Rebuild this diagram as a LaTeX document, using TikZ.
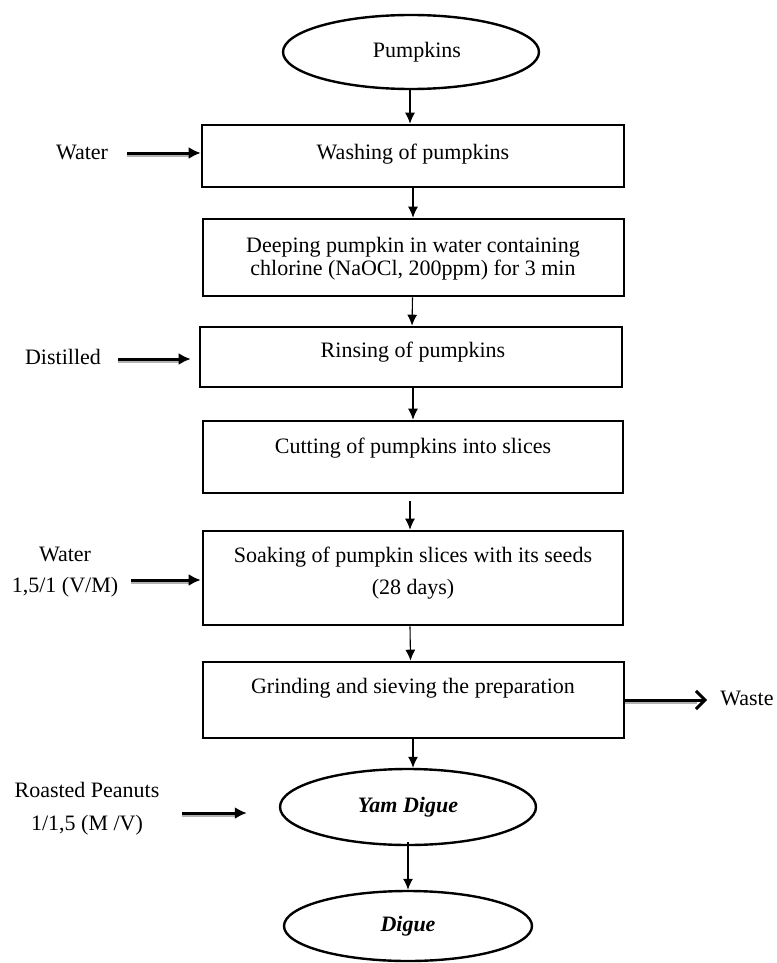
\documentclass[tikz,border=0pt]{standalone}
\usepackage{fontspec}
\setmainfont{Liberation Serif}
\usetikzlibrary{shapes.geometric,arrows.meta}
\begin{document}
\begin{tikzpicture}[x=1pt,y=-1pt,
  box/.style={draw,line width=2.6pt,rectangle,inner sep=0pt},
  oval/.style={draw,line width=2.4pt,ellipse,inner sep=0pt},
  txt/.style={font=\fontsize{22}{23}\selectfont,inner sep=0pt,align=center},
  flow/.style={line width=1.1pt,-{Latex[length=11pt,width=10pt]}},
  shadowline/.style={draw=gray!60,line width=2.5pt},
  feed/.style={line width=3pt,-{Latex[length=12pt,width=12pt]}},
  outflow/.style={line width=3pt,-{Straight Barb[length=9pt,width=18pt,line width=3pt]}}
]
\useasboundingbox (0,0) rectangle (776,963);

% main column
\node[oval,txt,minimum width=256pt,minimum height=74pt] (pump) at (411,52) {\hspace*{12pt}Pumpkins};
\node[box,minimum width=422pt,minimum height=62pt] (wash) at (413,156) {};
\node[txt] (twash) at (413,154) {Washing of pumpkins};
\node[box,minimum width=421pt,minimum height=77pt] (deep) at (413.5,257.5) {};
\node[txt,font=\fontsize{22}{22.7}\selectfont] (tdeep) at (413,258.5) {Deeping pumpkin in water containing\\chlorine (NaOCl, 200ppm) for 3 min};
\node[box,minimum width=422pt,minimum height=60pt] (rinse) at (411,357) {};
\node[txt] (trinse) at (413,352) {Rinsing of pumpkins};
\node[box,minimum width=420pt,minimum height=72pt] (cut) at (413,457) {};
\node[txt] (tcut) at (413,448) {Cutting of pumpkins into slices};
\node[box,minimum width=420pt,minimum height=94pt] (soak) at (413,578) {};
\node[txt,font=\fontsize{22}{32}\selectfont] (tsoak) at (413,573) {Soaking of pumpkin slices with its seeds\\(28 days)};
\node[box,minimum width=421pt,minimum height=76pt] (grind) at (413.5,700) {};
\node[txt] (tgrind) at (413,688) {Grinding and sieving the preparation};
\node[oval,txt,minimum width=256pt,minimum height=76pt,font=\fontsize{22}{23}\selectfont\bfseries\itshape] (yam) at (408,807) {Yam Digue};
\node[oval,txt,minimum width=248pt,minimum height=70pt,font=\fontsize{22}{23}\selectfont\bfseries\itshape] (dig) at (408,926) {Digue};

% vertical flow
\draw[flow] ([xshift=-1pt]pump.south) -- ([xshift=-3pt]wash.north);
\draw[flow] (wash.south) -- ([xshift=-0.5pt]deep.north);
\draw[flow] ([xshift=-1pt]deep.south) -- ([xshift=1pt]rinse.north);
\draw[flow] ([xshift=2pt]rinse.south) -- (cut.north);
\draw[flow] ([xshift=-3pt,yshift=-7pt]cut.south) -- ([xshift=-3pt]soak.north);
\draw[flow] ([xshift=-3pt]soak.south) -- ([xshift=-3pt]grind.north);
\draw[flow] ([xshift=-0.5pt]grind.south) -- ([xshift=5pt]yam.north);
\draw[flow] ([yshift=4pt]yam.south) -- (dig.north);

% side inputs
\node[txt] (lwater) at (82,152) {Water};
\coordinate (cwater) at (127,153);
\draw[shadowline] ([yshift=-2.5pt]cwater) -- ([xshift=-12pt,yshift=-2.5pt]wash.west |- cwater);
\draw[feed] (cwater) -- (wash.west |- cwater);

\node[txt] (ldist) at (63,357) {Distilled};
\coordinate (cdist) at (118,359);
\draw[shadowline] ([yshift=-2.5pt]cdist) -- ([xshift=-20pt,yshift=-2.5pt]rinse.west |- cdist);
\draw[feed] (cdist) -- ([xshift=-8pt]rinse.west |- cdist);

\node[txt,font=\fontsize{22}{31}\selectfont] (lwater2) at (65,572) {Water\\1,5/1 (V/M)};
\coordinate (cwater2) at (131,580);
\draw[shadowline] ([yshift=-2.5pt]cwater2) -- ([xshift=-13pt,yshift=-2.5pt]soak.west |- cwater2);
\draw[feed] (cwater2) -- ([xshift=-1pt]soak.west |- cwater2);

\node[txt,font=\fontsize{22}{33}\selectfont] (lpeanut) at (87,809) {Roasted Peanuts\\1/1,5 (M /V)};
\coordinate (cpeanut) at (182,813);
\draw[shadowline] ([yshift=-2.5pt]cpeanut) -- ([xshift=-44pt,yshift=-2.5pt]yam.west |- cpeanut);
\draw[feed] (cpeanut) -- ([xshift=-32pt]yam.west |- cpeanut);

% output
\node[txt] (lwaste) at (747,698) {Waste};
\coordinate (cwaste) at (707,700);
\draw[shadowline] ([yshift=-2.5pt]grind.east) -- ([xshift=-10pt,yshift=-2.5pt]cwaste);
\draw[outflow] (grind.east) -- (cwaste);
\end{tikzpicture}
\end{document}
